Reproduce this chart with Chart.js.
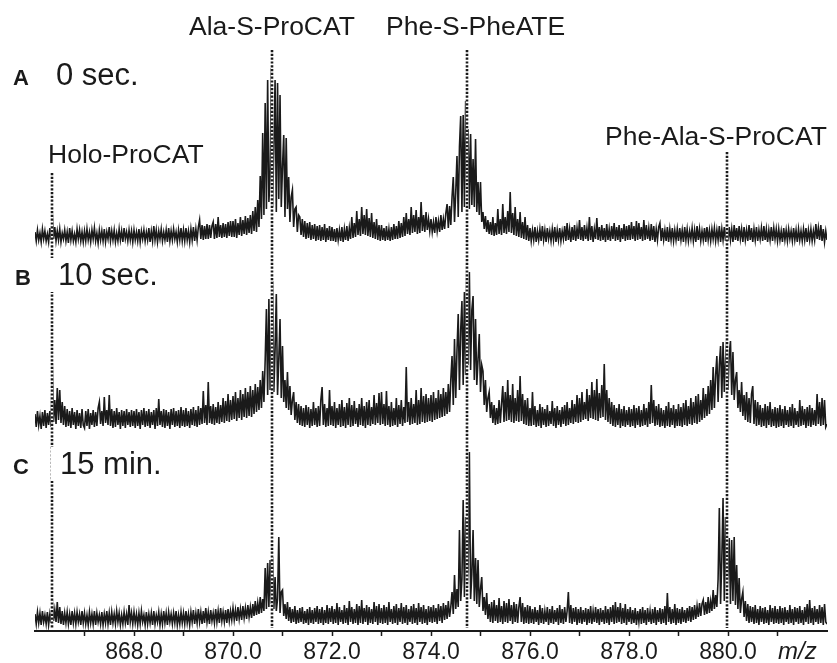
<!DOCTYPE html>
<html><head><meta charset="utf-8">
<script src="https://cdn.jsdelivr.net/npm/chart.js@4.4.1/dist/chart.umd.min.js"></script>
<style>html,body{margin:0;padding:0;background:#fff;}canvas{display:block;}</style>
</head><body>
<canvas id="c" width="837" height="663"></canvas>
<script>
// ---------- data ----------
const mzStart = 866.0;
const mzStep = 0.025;
// intensities above each trace's own baseline, one value every 0.025 m/z from 866.000 to 882.000
// (one line per m/z unit, 40 values each)
const traceA = [
 5,-4,7,-3,4,-5,8,-2,6,-4, 3,-5,9,-3,24,-2,10,-4,6,-3, 8,-5,4,-2,7,-4,5,-6,9,-3, 6,-4,3,-5,8,-2,7,-4,5,-5,
 6,-4,8,-3,5,-5,7,-2,9,-4, 4,-6,7,-3,6,-4,8,-5,5,-2, 10,-4,6,-3,7,-5,4,-4,8,-3, 6,-5,9,-2,5,-4,7,-3,6,-5,
 7,-3,5,-4,8,-5,6,-2,7,-4, 5,-3,9,-5,6,-4,11,-3,7,-5, 6,-2,8,-4,5,-3,7,-5,9,-4, 6,-3,8,-2,5,-5,7,-3,9,-4,
 7,-4,9,-3,6,-5,8,-3,10,-4, 8,-3,10,17,-2,12,-3,11,-2,13, -2,12,-1,11,15,-2,13,-1,20,0, 12,-1,14,0,13,-1,15,1,16,0,
 16,0,18,-1,14,2,20,1,17,3, 21,2,19,4,22,3,26,6,30,5, 37,10,61,18,104,22,134,28,157,35, 60,169,30,90,157,25,154,38,142,30,
 70,102,20,99,28,60,15,40,47,10, 28,30,5,22,20,2,18,0,16,-2, 14,-1,15,-3,12,-2,13,-4,11,-3, 12,-4,10,-3,13,-5,9,-3,11,-4,
 10,-4,8,-5,9,-3,7,-4,10,-5, 8,-3,11,-4,9,-2,20,-1,14,0, 26,2,18,1,30,3,22,2,28,1, 19,0,24,-1,15,-2,18,-3,12,-4,
 12,-3,9,-4,11,-3,8,-4,10,-3, 13,-2,11,-2,16,-1,14,0,20,1, 24,3,18,2,30,4,22,5,27,3, 20,4,35,6,22,5,25,7,18,6,
 18,5,15,4,20,6,16,5,22,7, 18,8,24,33,9,31,12,40,60,15, 45,81,20,90,121,25,122,30,136,35, 108,28,103,32,78,30,98,25,55,22,
 55,15,25,8,21,5,17,3,15,2, 20,1,14,2,28,3,18,2,33,4, 20,3,26,5,45,4,24,2,30,1, 18,0,25,-1,15,-2,20,-3,12,-4,
 9,-4,7,-3,10,-5,6,-3,8,-4, 11,-3,7,-5,9,-2,6,-4,8,-3, 10,-5,7,-3,9,-4,6,-2,11,-4, 14,-3,8,-5,10,-3,12,-4,9,-2,
 17,-3,10,-4,12,-2,9,-4,20,-3, 11,-5,8,-2,19,-3,10,-4,12,-3, 9,-5,13,-3,8,-4,11,-2,14,-4, 10,-3,12,-5,9,-2,13,-4,11,-3,
 12,-3,15,-2,11,-4,16,-3,14,-2, 10,-4,17,-3,12,-2,9,-4,13,-3, 11,-5,8,-3,10,14,-4,9,-3,7, -4,10,-5,8,-3,9,-4,7,-3,8,
 -4,9,-3,7,-5,10,-3,8,-4,6, -2,9,-4,7,-5,11,-3,8,-4,6, -3,9,-5,10,-3,7,-4,8,-2,9, -4,7,-3,11,-5,8,-3,10,-4,12,
 -4,10,-3,8,-5,12,-3,9,-4,11, -2,8,-5,10,-3,7,-4,12,-3,9, -5,8,-3,10,-4,7,-2,9,-4,11, -3,8,-5,7,-3,10,-4,9,-2,8,
 -4,8,-3,6,-5,9,-3,7,-4,8, -2,6,-4,9,-3,7,-5,8,-3,6, -4,8,-3,9,-5,7,-3,8,-4,6, -3,13,-2,9,-3,12,-4,8,-5,6,
 -3
];
const traceB = [
 6,-7,9,-5,4,-9,8,-6,10,-8, 7,-5,9,-7,56,-2,20,-4,32,0, 30,-3,18,-5,14,-7,11,-6,9,-8, 12,-5,8,-9,10,-6,7,-8,11,-5,
 -8,9,-6,11,-9,7,-5,10,-7,8, -6,12,18,-4,9,-6,23,-3,10,-5, 25,-6,11,-8,9,-7,12,-5,8,-9, 10,-6,9,-8,11,-5,8,-7,10,-6,
 9,-8,11,-6,8,-9,10,-5,12,-7, 9,-6,11,-8,8,-5,10,-9,12,-6, 21,-5,9,-7,11,-8,10,-6,8,-9, 11,-5,12,-7,9,-6,10,-8,13,-6,
 10,-7,12,-6,9,-8,11,-5,13,-6, 10,-7,14,-5,12,-4,29,-3,15,-5, 38,-3,14,-4,16,-5,13,-3,18,-4, 15,-2,22,-3,19,-1,26,-2,20,0,
 24,1,28,-1,22,2,30,0,26,3, 32,2,28,4,34,3,30,6,36,8, 33,10,40,12,49,18,60,111,25,121, 30,80,139,28,70,126,25,60,101,22,
 74,18,40,12,48,10,34,5,20,28, 0,18,-3,16,-5,14,-6,12,-7,15, -5,13,-8,11,-6,18,-5,12,-7,14, -6,20,33,-5,16,-7,12,-6,30,-5,
 14,-6,18,-8,12,-5,16,-7,20,-6, 13,-8,17,-5,22,-7,15,-6,19,-4, 12,-7,16,-5,22,-6,14,-8,18,-5, 20,-6,13,-4,25,-5,17,-3,27,-5,
 28,-4,16,-6,29,-5,14,-7,18,-6, 12,-5,22,-7,15,-4,20,-6,13,-3, 53,-2,18,-5,22,-4,16,-3,30,-5, 20,-4,32,-2,24,-3,26,-2,22,-1,
 25,-2,28,0,22,1,30,2,26,3, 32,4,28,6,36,8,40,64,15,81, 22,70,106,30,90,119,35,128,45,170, 55,148,50,110,124,40,101,35,60,86,
 28,55,49,15,40,8,22,28,2,18, -3,15,-5,12,-4,20,-3,16,34,-2, 28,-1,40,0,25,-2,36,-3,22,-1, 30,-2,44,-1,26,-4,20,-5,22,-6,
 12,-6,28,-5,14,-7,10,-6,16,-8, 13,-5,11,-7,15,-6,9,-4,19,-6, 12,-8,14,-5,10,-7,13,-4,15,-6, 18,-5,12,-3,20,-4,16,-2,25,-3,
 22,-2,28,0,18,1,31,-1,25,2, 38,1,30,0,41,-1,27,2,35,3, 56,0,30,-2,22,-4,18,-6,15,-7, 12,-5,16,-8,11,-6,14,-7,10,-5,
 13,-7,11,-6,15,-8,12,-5,14,-7, 10,-6,16,-5,12,-7,18,-4,35,-3, 20,-6,14,-5,16,-7,12,-6,10,-8, 14,-6,18,-7,12,-5,15,-8,11,-6,
 16,-6,13,-7,17,-5,20,-6,14,-4, 22,-5,18,-3,24,-4,26,-2,20,0, 32,2,26,4,34,6,40,10,53,12, 45,64,18,55,74,22,78,28,60,81,
 30,65,79,25,68,20,40,48,12,30, 8,38,4,25,0,28,-2,22,-3,26, 34,-4,20,-6,18,-5,15,-7,12,-6, 16,-8,14,-5,18,-7,11,-6,13,-8,
 12,-7,15,-6,11,-8,14,-5,10,-7, 13,-6,16,-8,12,-5,9,-7,20,-6, 14,-5,11,-8,13,-6,15,-7,12,-5, 10,-6,26,-4,18,-6,22,-5,20,-7,
 -4
];
const traceC = [
 5,-5,7,-4,6,-6,8,-3,4,-5, 7,-6,5,-4,19,-2,9,-3,17,-4, 12,-5,8,-6,6,-4,7,-5,5,-6, 8,-4,6,-5,7,-3,5,-6,8,-4,
 6,-5,4,-6,7,-4,5,-5,8,-6, 6,-3,4,-5,7,-6,5,-4,8,-5, 6,-6,7,-4,5,-5,8,-3,6,-6, 4,-5,7,-4,5,-6,14,-3,6,-5,
 7,-4,5,-6,6,-5,8,-3,4,-6, 7,-5,5,-4,6,-6,8,-5,4,-3, 7,-6,5,-5,8,-4,6,-6,7,-3, 5,-5,6,-4,8,-6,4,-5,7,-4,
 6,-5,8,-4,5,-6,7,-3,9,-5, 6,-4,10,-3,7,-5,8,-4,11,-3, 7,-5,9,-2,6,-4,10,-3,8,-4, 11,-2,7,-3,9,-4,10,-2,8,-1,
 11,-1,9,-2,12,0,10,-1,13,1, 11,0,14,2,12,1,15,3,18,4, 16,5,22,6,20,8,51,10,56,12, 59,15,62,10,42,8,20,82,6,27,
 29,3,15,0,17,-2,12,-4,10,-3, 13,-5,9,-4,11,-3,12,-5,8,-4, 10,-6,12,-4,9,-5,11,-3,13,-5, 10,-4,12,-6,9,-4,14,-5,11,-3,
 13,-5,10,-4,16,-6,12,-3,9,-5, 14,-4,11,-6,18,-3,12,-5,10,-4, 15,-6,13,-4,19,-5,11,-3,14,-6, 12,-4,10,-5,17,-3,13,-6,15,-4,
 11,-5,14,-4,12,-6,17,-3,10,-5, 13,-4,15,-6,11,-3,16,-5,12,-4, 14,-6,10,-3,13,-5,15,-4,11,-6, 16,-3,12,-5,14,-4,10,-6,13,-3,
 12,-4,14,-3,11,-5,15,-2,13,-4, 16,-1,14,0,18,2,12,27,5,44, 10,30,12,89,18,40,119,22,102,25, 50,167,20,45,89,18,61,15,59,12,
 30,42,8,22,4,26,0,15,-3,17, -4,19,-2,14,-4,21,-3,13,-5,18, -3,16,-4,20,-2,14,-5,17,-3,15, -4,12,22,-3,16,-5,12,-4,14,-5,
 13,-4,10,-5,12,-3,9,-6,14,-4, 11,-5,8,-3,12,-6,10,-4,13,-5, 9,-3,11,-6,14,-4,10,-5,12,-3, 8,27,-4,14,-5,11,-3,12,-6,10,
 -4,12,-5,9,-3,11,-6,10,-4,13, -5,8,-3,12,-4,10,-6,11,-3,9, -5,13,-4,10,-6,12,-3,14,-5,17, -4,12,-3,16,-5,11,-4,15,-6,10,
 -3,12,-5,9,-4,11,-6,8,-3,10, -5,12,-4,9,-6,11,-3,8,-5,10, -4,12,-6,9,-3,11,-5,10,-4,13, -6,26,-3,12,-5,10,-4,15,-6,11,
 -4,10,-5,12,-3,9,-4,11,-2,13, -3,12,-1,14,0,13,2,16,3,15, 19,4,17,5,22,6,18,8,29,10, 24,12,40,111,15,60,121,18,102,20,
 45,81,15,79,18,82,14,54,10,41, 6,20,27,2,18,-2,15,-4,13,-3, 12,-5,14,-4,10,-6,13,-3,11,-5, 12,-4,9,-6,14,-3,11,-5,13,-4,
 10,-5,13,-4,11,-6,12,-3,9,-5, 14,-4,10,-6,12,-3,11,-5,13,-4, 9,-6,12,-3,15,-5,19,-4,11,-6, 13,-3,10,-5,14,-4,12,-6,15,-3,
 -5
];
const traceLetters = ['A', 'B', 'C'];
const traceTimes = ['0 sec.', '10 sec.', '15 min.'];
const peakNames = ['Holo-ProCAT', 'Ala-S-ProCAT', 'Phe-S-PheATE', 'Phe-Ala-S-ProCAT'];
const peakMz = [866.35, 870.78, 874.73, 879.97];
const xTickLabels = ['868.0', '870.0', '872.0', '874.0', '876.0', '878.0', '880.0'];
const xAxisTitle = 'm/z';

// ---------- layout / style ----------
const INK = '#1a1a1a';
const FONT = '"Liberation Sans", Arial, Helvetica, sans-serif';
const X_MIN = 866, X_MAX = 882;
const Y_MAX = 631;                     // vertical extent of plot area in value units
const traceOffset = [394, 211, 12];    // stacking offsets of A, B, C
const peakLineSpan = [[458, 3], [581, 3], [581, 3], [479, 3]]; // dotted guide extents (value units)
const peakLabelPos = [[48, 163], [189, 35], [386, 35], [605, 145]]; // text left, baseline (px)
const traceLabelPos = [[13, 56, 85], [15, 58, 285], [13, 60, 474]]; // letter x, time x, baseline (px)

const traces = [traceA, traceB, traceC];
const datasets = traces.map((vals, k) => ({
  label: traceLetters[k] + ' ' + traceTimes[k],
  data: vals.map((v, i) => ({ x: mzStart + i * mzStep, y: traceOffset[k] + v })),
  borderColor: INK,
  borderWidth: 1.6,
  pointRadius: 0,
  tension: 0,
  fill: false
}));

const overlay = {
  id: 'overlay',
  afterDatasetsDraw(chart) {
    const { ctx, scales: { x, y } } = chart;
    ctx.save();
    peakMz.forEach((mz, i) => {
      const px = Math.round(x.getPixelForValue(mz));
      const y1 = y.getPixelForValue(peakLineSpan[i][0]);
      const y2 = y.getPixelForValue(peakLineSpan[i][1]);
      ctx.lineWidth = 2.6;
      ctx.beginPath(); ctx.moveTo(px, y1); ctx.lineTo(px, y2);
      ctx.setLineDash([]); ctx.strokeStyle = '#fff'; ctx.stroke();
      ctx.setLineDash([2.2, 1.6]); ctx.strokeStyle = INK; ctx.stroke();
    });
    ctx.setLineDash([]);
    ctx.textBaseline = 'alphabetic';
    ctx.textAlign = 'left';
    traceLabelPos.forEach((p, k) => {
      ctx.font = '31px ' + FONT;
      const w = ctx.measureText(traceTimes[k]).width;
      ctx.fillStyle = '#fff';
      ctx.fillRect(p[1] - 9, p[2] - 27, w + 13, 34);
      ctx.fillStyle = INK;
      ctx.fillText(traceTimes[k], p[1], p[2]);
      ctx.font = 'bold 22px ' + FONT;
      ctx.fillText(traceLetters[k], p[0], p[2]);
    });
    ctx.font = '26.5px ' + FONT;
    ctx.fillStyle = INK;
    peakNames.forEach((name, i) => {
      ctx.fillText(name, peakLabelPos[i][0], peakLabelPos[i][1]);
    });
    ctx.font = 'italic 24px ' + FONT;
    ctx.fillText(xAxisTitle, 778, 659);
    ctx.restore();
  }
};

new Chart(document.getElementById('c'), {
  type: 'line',
  data: { datasets },
  options: {
    responsive: false,
    animation: false,
    devicePixelRatio: 1,
    layout: { padding: { left: 35, right: 10, top: 0, bottom: 0 } },
    plugins: { legend: { display: false }, tooltip: { enabled: false } },
    scales: {
      x: {
        type: 'linear', min: X_MIN, max: X_MAX,
        ticks: {
          stepSize: 1, autoSkip: false, maxRotation: 0, padding: 3,
          color: INK, font: { family: FONT, size: 23 },
          callback: (v) => { const s = Number(v).toFixed(1); return xTickLabels.includes(s) ? s : ''; }
        },
        grid: {
          drawOnChartArea: false, drawTicks: true, tickLength: 5, tickWidth: 1.5,
          tickColor: (c) => (c.tick && (c.tick.value === X_MIN || c.tick.value === X_MAX)) ? 'rgba(0,0,0,0)' : INK
        },
        border: { display: true, width: 2, color: INK },
        afterFit: (s) => { s.height = 32; }
      },
      y: { display: false, min: 0, max: Y_MAX }
    }
  },
  plugins: [overlay]
});
</script>
</body></html>
